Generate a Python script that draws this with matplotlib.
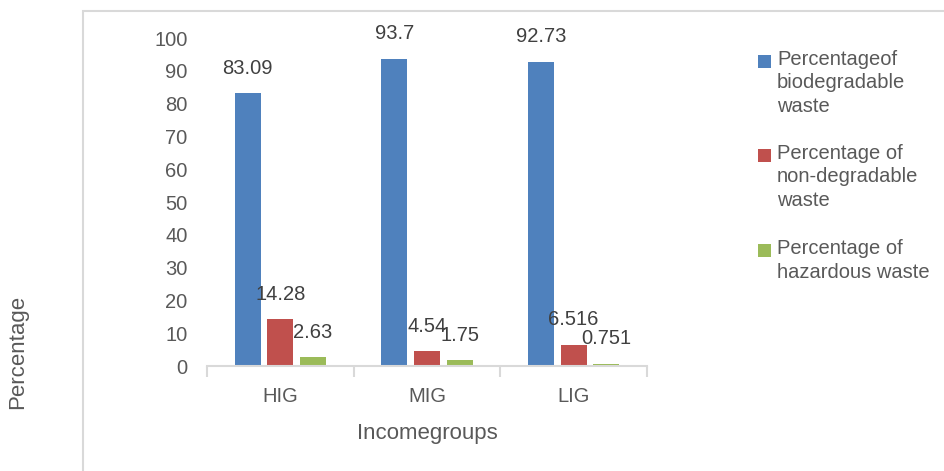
import matplotlib
matplotlib.use('Agg')
import matplotlib.pyplot as plt
import numpy as np
from matplotlib.patches import Rectangle

plt.rcParams['font.family'] = ['Liberation Sans', 'DejaVu Sans']

groups = ['HIG', 'MIG', 'LIG']
biodegradable = [83.09, 93.7, 92.73]
non_degradable = [14.28, 4.54, 6.516]
hazardous = [2.63, 1.75, 0.751]
bio_labels = ['83.09', '93.7', '92.73']
non_labels = ['14.28', '4.54', '6.516']
haz_labels = ['2.63', '1.75', '0.751']
series_names = ['Percentageof\nbiodegradable\nwaste',
                'Percentage of\nnon-degradable\nwaste',
                'Percentage of\nhazardous waste']
colors = ['#4F81BD', '#C0504D', '#9BBB59']

W, H = 944, 471
fig = plt.figure(figsize=(W / 100, H / 100), dpi=100)
ax = fig.add_axes([207 / W, 1 - 366 / H, 440 / W, 328 / H])

# chart frame (left/top border visible, rest cut off)
fig.patches.append(Rectangle((83 / W, -0.1), 1.2, 1 - 11 / H + 0.1, transform=fig.transFigure,
                             fill=False, edgecolor='#d9d9d9', linewidth=1.5))

x = np.arange(len(groups))
step = 0.222
width = 0.177
txtc = '#404040'
for i, (vals, labs) in enumerate([(biodegradable, bio_labels), (non_degradable, non_labels), (hazardous, haz_labels)]):
    pos = x + (i - 1) * step
    ax.bar(pos, vals, width=width, color=colors[i], zorder=2)
    for px, v, lab in zip(pos, vals, labs):
        ax.annotate(lab, (px, v), xytext=(0, 18), textcoords='offset points',
                    ha='center', va='center', fontsize=14.5, color=txtc)

ax.set_xlim(-0.5, 2.5)
ax.set_ylim(0, 100)
ax.set_yticks(np.arange(0, 101, 10))
ax.set_xticks(x)
ax.set_xticklabels(groups)
ax.set_xticks([-0.5, 0.5, 1.5, 2.5], minor=True)
ax.tick_params(axis='x', which='major', length=0, pad=15, labelsize=14.5, labelcolor='#595959')
ax.tick_params(axis='x', which='minor', length=8, width=1.5, color='#d9d9d9')
ax.tick_params(axis='y', length=0, pad=14, labelsize=14.5, labelcolor='#595959')
for s in ['top', 'right', 'left']:
    ax.spines[s].set_visible(False)
ax.spines['bottom'].set_color('#d9d9d9')
ax.spines['bottom'].set_linewidth(1.5)
ax.set_xlabel('Incomegroups', fontsize=16, color='#595959', labelpad=12)

fig.text(18 / W, 1 - 352 / H, 'Percentage', rotation=90, ha='center', va='center',
         fontsize=16, color='#595959')

# legend
leg_y = [61, 155, 250]
for name, c, y in zip(series_names, colors, leg_y):
    fig.patches.append(Rectangle((758 / W, 1 - (y + 6.5) / H), 13 / W, 13 / H,
                                 transform=fig.transFigure, facecolor=c, edgecolor='none'))
    fig.text(777 / W, 1 - (y - 11) / H, name, ha='left', va='top', fontsize=14.5,
             color='#595959', linespacing=1.3)

fig.savefig('out.png', dpi=100)
